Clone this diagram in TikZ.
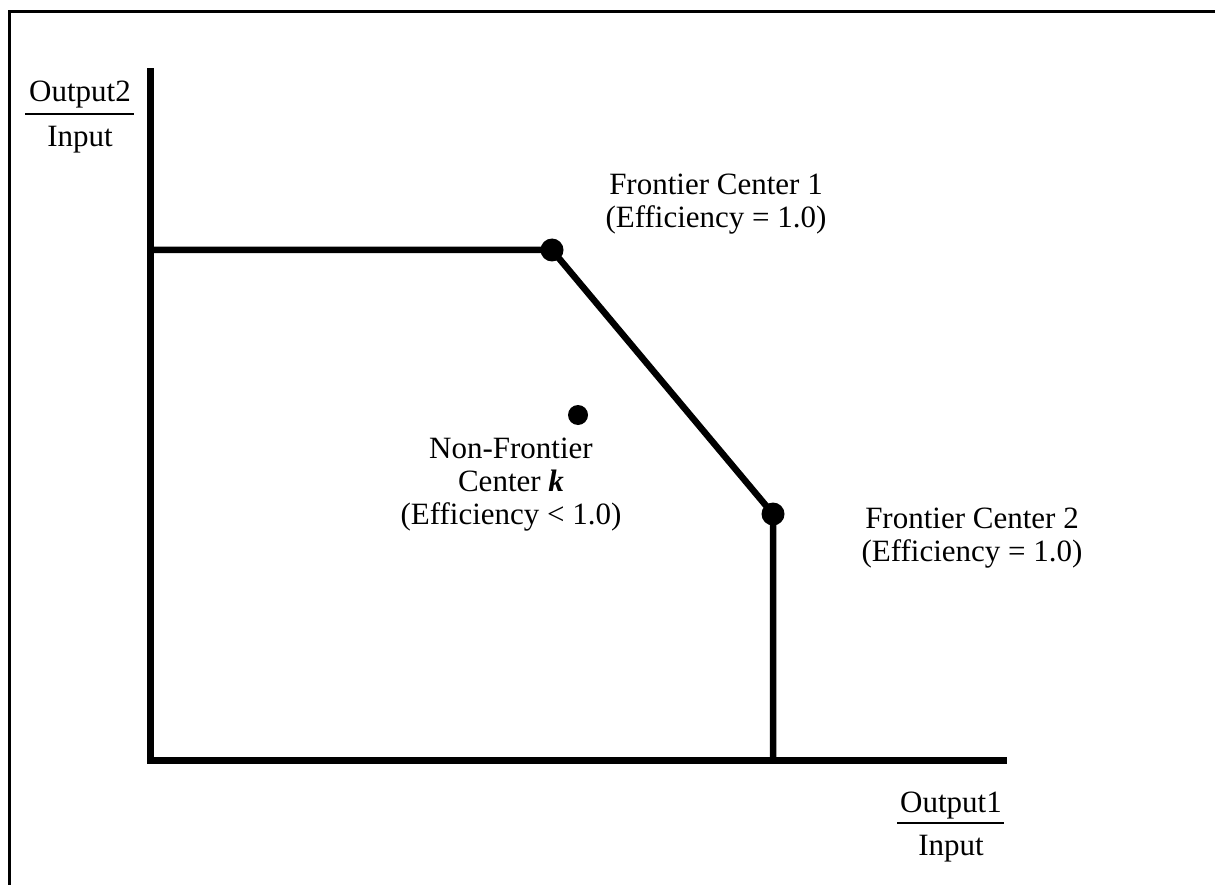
\documentclass[tikz,border=0pt]{standalone}
\usepackage{fontspec}
\setmainfont{Liberation Serif}
\begin{document}
\begin{tikzpicture}[x=1pt,y=-1pt,
  axis/.style={line width=7pt,line cap=rect},
  front/.style={line width=6.5pt,line join=round},
  dot/.style={circle,fill=black,inner sep=0pt,minimum size=#1},
  lbl/.style={font=\fontsize{31}{33}\selectfont,inner sep=0pt,align=center,anchor=base},
  frac/.style={font=\fontsize{31}{33}\selectfont,inner sep=0pt,anchor=base}]
\useasboundingbox (0,0) rectangle (1215,885);
\fill[white] (0,0) rectangle (1215,885);
% frame
\draw[line width=3pt] (9,885) -- (9,12) -- (1215,12);
% axes
\coordinate (top) at (150,72);
\coordinate (origin) at (150,760);
\coordinate (xend) at (1003,760);
\draw[axis] (top) -- (origin) -- (xend);
% frontier
\coordinate (ystart) at (150,250);
\node[dot=23pt] (f1) at (552,250) {};
\node[dot=23pt] (f2) at (773,514) {};
\node[dot=20pt] (k) at (578,415) {};
\coordinate (xfoot) at (773,760);
\draw[front] (ystart) -- (f1.center) -- (f2.center) -- (xfoot);
% labels
\node[lbl] (l1) at (716,228) {Frontier Center 1\\(Efficiency = 1.0)};
\node[lbl] (l2) at (972,561) {Frontier Center 2\\(Efficiency = 1.0)};
\node[lbl] (lk) at (511,524) {Non-Frontier\\Center \textbf{\textit{k}}\\(Efficiency < 1.0)};
% axis labels
\node[frac] (o2) at (80,102) {Output2};
\node[frac] (i2) at (80,147) {Input};
\coordinate (r2a) at (25,114);
\coordinate (r2b) at (134,114);
\draw[line width=2pt] (r2a) -- (r2b);
\node[frac] (o1) at (951,812) {Output1};
\node[frac] (i1) at (951,855) {Input};
\coordinate (r1a) at (897,823);
\coordinate (r1b) at (1004,823);
\draw[line width=2pt] (r1a) -- (r1b);
\end{tikzpicture}
\end{document}
